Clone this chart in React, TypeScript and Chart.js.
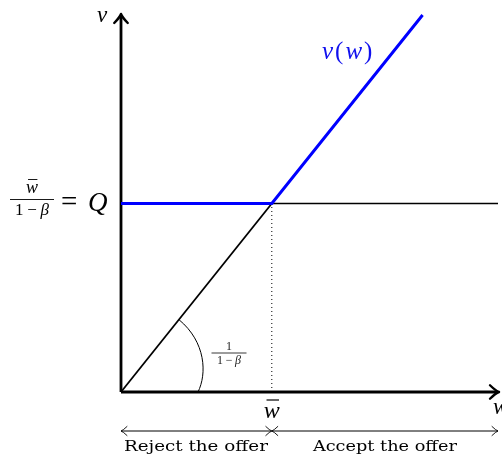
import React, { useEffect, useRef } from "react";
import { Chart, registerables } from "chart.js";

Chart.register(...registerables);

// Reservation wage model: v(w) = max(Q, w / (1 - beta)), Q = wbar / (1 - beta)
const beta = 0.2;
const wbar = 1;
const Q = wbar / (1 - beta);
const axisMax = 2.5;

// value function v(w): flat at Q until wbar, then w/(1-beta)
const valueW = [0, wbar, 2];
const valueV = [Q, Q, 2 / (1 - beta)];

// ray w/(1-beta) from the origin up to wbar
const rayW = [0, wbar];
const rayV = [0, Q];

// continuation of the level Q to the right
const levelW = [wbar, axisMax];
const levelV = [Q, Q];

// dotted guide down from (wbar, Q)
const guideW = [wbar, wbar];
const guideV = [0, Q];

const regionLabels = ["Reject the offer", "Accept the offer"];

const toPoints = (xs: number[], ys: number[]) => xs.map((x, i) => ({ x, y: ys[i] }));

const MATH = "'Liberation Serif', 'DejaVu Serif', serif";
const TEXT = "'DejaVu Serif', 'Liberation Serif', serif";

function arrowHead(ctx: CanvasRenderingContext2D, x: number, y: number, angle: number, s: number, lw: number) {
  ctx.save();
  ctx.translate(x, y);
  ctx.rotate(angle);
  ctx.lineWidth = lw;
  ctx.lineCap = "round";
  ctx.lineJoin = "round";
  ctx.beginPath();
  ctx.moveTo(-s, -s * 0.75);
  ctx.quadraticCurveTo(-s * 0.35, -s * 0.12, 0, 0);
  ctx.quadraticCurveTo(-s * 0.35, s * 0.12, -s, s * 0.75);
  ctx.stroke();
  ctx.restore();
}

function fraction(ctx: CanvasRenderingContext2D, cx: number, barY: number, num: (x: number, y: number) => void, den: (x: number, y: number) => void, width: number, gapUp: number, gapDown: number) {
  ctx.beginPath();
  ctx.lineWidth = 0.9;
  ctx.moveTo(cx - width / 2, barY);
  ctx.lineTo(cx + width / 2, barY);
  ctx.stroke();
  num(cx, barY - gapUp);
  den(cx, barY + gapDown);
}

function wBar(ctx: CanvasRenderingContext2D, cx: number, cy: number, size: number) {
  ctx.font = `italic ${size}px ${MATH}`;
  ctx.textAlign = "center";
  ctx.textBaseline = "middle";
  ctx.fillText("w", cx, cy);
  ctx.beginPath();
  ctx.lineWidth = Math.max(0.8, size / 20);
  ctx.moveTo(cx - size * 0.22, cy - size * 0.5);
  ctx.lineTo(cx + size * 0.3, cy - size * 0.5);
  ctx.stroke();
}

// "1 − β" with math spacing around the minus sign
function oneMinusBeta(ctx: CanvasRenderingContext2D, cx: number, cy: number, size: number) {
  ctx.textBaseline = "middle";
  ctx.textAlign = "left";
  const gap = size * 0.22;
  ctx.font = `${size}px ${MATH}`;
  const w1 = ctx.measureText("1").width;
  const wm = ctx.measureText("\u2212").width;
  ctx.font = `italic ${size}px ${MATH}`;
  const wb = ctx.measureText("\u03b2").width;
  const total = w1 + wm + wb + 2 * gap;
  let x = cx - total / 2;
  ctx.font = `${size}px ${MATH}`;
  ctx.fillText("1", x, cy);
  x += w1 + gap;
  ctx.fillText("\u2212", x, cy);
  x += wm + gap;
  ctx.font = `italic ${size}px ${MATH}`;
  ctx.fillText("\u03b2", x, cy);
}

const annotations = {
  id: "annotations",
  afterDatasetsDraw(chart: any) {
    const { ctx } = chart;
    const xs = chart.scales.x;
    const ys = chart.scales.y;
    const px = (v: number) => xs.getPixelForValue(v);
    const py = (v: number) => ys.getPixelForValue(v);
    const ox = px(0);
    const oy = py(0);

    ctx.save();
    ctx.strokeStyle = "#000";
    ctx.fillStyle = "#000";

    // axis arrowheads
    arrowHead(ctx, px(axisMax) + 1, oy, 0, 9, 2.4);
    arrowHead(ctx, ox, py(axisMax) - 1, -Math.PI / 2, 9, 2.4);

    // angle arc between the w-axis and the ray
    const sx = px(wbar * 0.384);
    const sy = py(Q * 0.384);
    ctx.beginPath();
    ctx.lineWidth = 1;
    ctx.moveTo(sx, sy);
    ctx.bezierCurveTo(ox + 85, oy - 50, ox + 86, oy - 18, ox + 77, oy);
    ctx.stroke();

    // slope label 1/(1-beta)
    ctx.fillStyle = "#222";
    ctx.strokeStyle = "#222";
    fraction(
      ctx,
      ox + 108,
      oy - 39,
      (x, y) => {
        ctx.font = `12px ${MATH}`;
        ctx.textAlign = "center";
        ctx.textBaseline = "middle";
        ctx.fillText("1", x, y);
      },
      (x, y) => oneMinusBeta(ctx, x, y, 12),
      35,
      6,
      7.5
    );

    ctx.fillStyle = "#000";
    ctx.strokeStyle = "#000";

    // axis names
    ctx.font = `italic 23px ${MATH}`;
    ctx.textAlign = "center";
    ctx.textBaseline = "middle";
    ctx.fillText("v", ox - 19, py(axisMax) + 1);
    ctx.textAlign = "left";
    ctx.fillText("w", px(axisMax) - 5, oy + 16);

    // wbar tick label
    wBar(ctx, px(wbar), oy + 20, 24);

    // Q = wbar / (1 - beta)
    const qy = py(Q);
    fraction(
      ctx,
      32,
      qy - 4,
      (x, y) => wBar(ctx, x, y - 1, 18),
      (x, y) => oneMinusBeta(ctx, x, y, 17),
      44,
      10,
      11
    );
    ctx.font = `29px ${MATH}`;
    ctx.textAlign = "left";
    ctx.textBaseline = "middle";
    ctx.fillText("=", 61, qy);
    ctx.font = `italic 27px ${MATH}`;
    ctx.fillText("Q", 88, qy);

    // v(w) label
    ctx.fillStyle = "#1010ee";
    ctx.textBaseline = "middle";
    const ly = py(2.25);
    let cur = 322;
    const parts: [string, boolean][] = [["v", true], ["(", false], ["w", true], [")", false]];
    for (const [t, it] of parts) {
      ctx.font = `${it ? "italic " : ""}25px ${MATH}`;
      ctx.fillText(t, cur, ly);
      cur += ctx.measureText(t).width + 2;
    }

    // decision regions along the w-axis
    ctx.fillStyle = "#000";
    ctx.strokeStyle = "#000";
    const dy = oy + 39;
    const bounds = [[px(0), px(wbar)], [px(wbar), px(axisMax)]];
    bounds.forEach(([a, b], i) => {
      ctx.beginPath();
      ctx.lineWidth = 1;
      ctx.moveTo(a, dy);
      ctx.lineTo(b, dy);
      ctx.stroke();
      arrowHead(ctx, a, dy, Math.PI, 6, 0.9);
      arrowHead(ctx, b, dy, 0, 6, 0.9);
      // caption stretched horizontally to a common width
      ctx.font = `15px ${TEXT}`;
      const w = ctx.measureText(regionLabels[i]).width;
      const sxs = 144 / w;
      ctx.save();
      ctx.translate((a + b) / 2 + (i === 0 ? -0.5 : 0), dy + 16);
      ctx.scale(sxs, 1);
      ctx.textAlign = "center";
      ctx.textBaseline = "middle";
      ctx.fillText(regionLabels[i], 0, 0);
      ctx.restore();
    });

    ctx.restore();
  },
};

export default function App() {
  const ref = useRef<HTMLCanvasElement | null>(null);

  useEffect(() => {
    if (!ref.current) return;
    const line = (xs: number[], ys: number[], color: string, width: number, order: number, dash: number[] = []) => ({
      data: toPoints(xs, ys),
      showLine: true,
      borderColor: color,
      borderWidth: width,
      borderDash: dash,
      pointRadius: 0,
      pointHoverRadius: 0,
      fill: false,
      clip: false as any,
      order,
      borderCapStyle: "butt" as const,
    });
    const chart = new Chart(ref.current, {
      type: "scatter",
      data: {
        datasets: [
          line(valueW, valueV, "#0000ff", 3, 0),
          line(rayW, rayV, "#000", 1.8, 2),
          line(levelW, levelV, "#000", 1.6, 2),
          line(guideW, guideV, "#000", 1, 3, [1, 3]),
          line([0, axisMax], [0, 0], "#000", 2.8, 1),
          line([0, 0], [0, axisMax], "#000", 2.8, 1),
        ],
      },
      options: {
        responsive: false,
        animation: false,
        events: [],
        layout: { padding: { left: 121, right: 4, top: 15, bottom: 67 } },
        scales: {
          x: { type: "linear", min: 0, max: axisMax, display: false },
          y: { type: "linear", min: 0, max: axisMax, display: false },
        },
        plugins: { legend: { display: false }, tooltip: { enabled: false } },
      },
      plugins: [annotations],
    });
    return () => chart.destroy();
  }, []);

  return (
    <div style={{ position: "absolute", left: 0, top: 0, width: 502, height: 459, background: "#fff" }}>
      <canvas ref={ref} width={502} height={459} style={{ width: 502, height: 459 }} />
    </div>
  );
}
